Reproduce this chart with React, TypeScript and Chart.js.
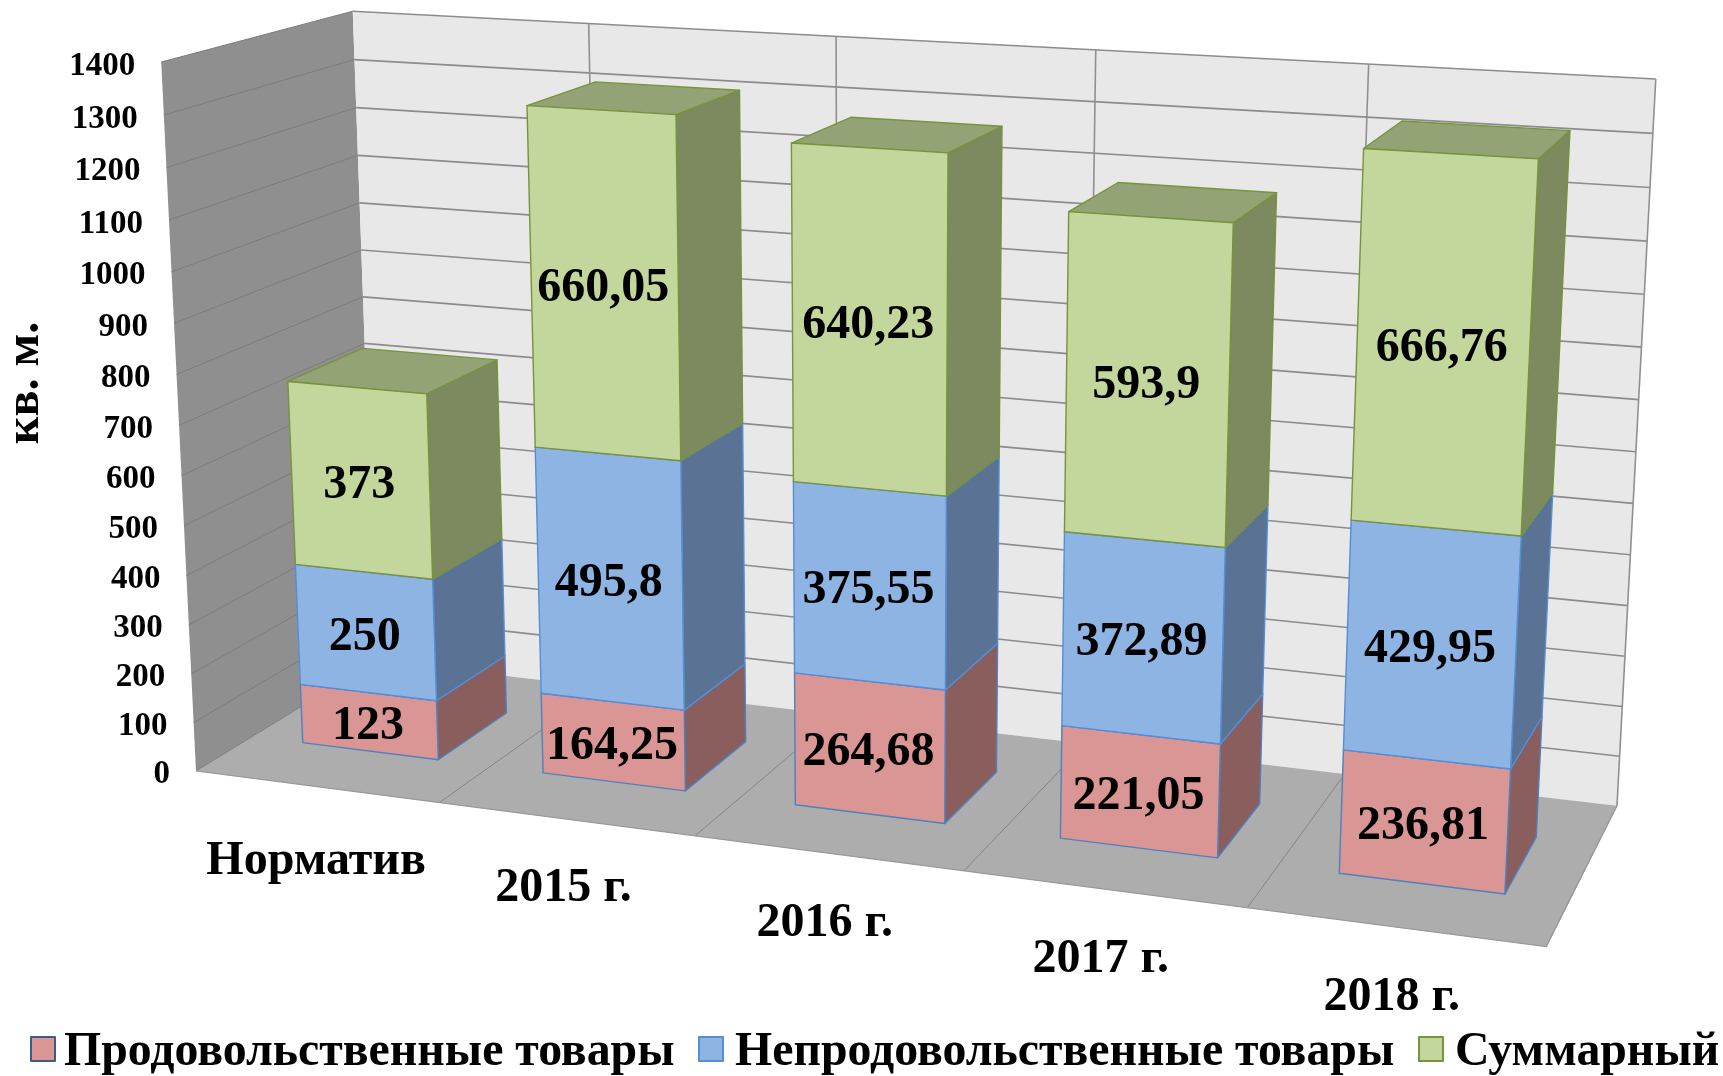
import React, { useEffect, useRef } from "react";
import { Chart, registerables } from "chart.js";

Chart.register(...registerables);

const categories = ["Норматив", "2015 г.", "2016 г.", "2017 г.", "2018 г."];
const foodValues = [123, 164.25, 264.68, 221.05, 236.81];
const nonFoodValues = [250, 495.8, 375.55, 372.89, 429.95];
const totalValues = [373, 660.05, 640.23, 593.9, 666.76];
const seriesNames = ["Продовольственные товары", "Непродовольственные товары", "Суммарный"];
const frontColors = ["#D99694", "#8EB4E3", "#C3D69B"];
const sideColors = ["#8B5E5E", "#5A7293", "#7D895F"];
const topColors = ["#A07070", "#6C88AE", "#94A376"];
const edgeColors = ["#4F81BD", "#558ED5", "#77933C"];
const yTitle = "кв. м.";

const FONT = '"Liberation Serif", "Times New Roman", serif';
const WALL_LEFT = "#8F8F8F";
const WALL_BACK = "#E8E8E8";
const FLOOR = "#ADADAD";
const DEPTH_FRONT = 0.295;
const DEPTH_BACK = 0.705;
const CATEGORY_NUDGE_X = [4, 2, 1, 1, 1];
const CATEGORY_NUDGE_Y = [5, 0, 0, 0, 1];

// Camera calibration: cube corners (u along categories, v up the value axis, w into the page), picture position, weight.
const calibration: number[][] = [
  [0, 1, 0, 159, 63, 4], [0, 0, 0, 197, 769, 4], [0, 1, 1, 355, 11, 4], [0, 0, 1, 372, 664, 2],
  [1, 1, 1, 1656, 79, 4], [1, 0, 1, 1617, 805, 4], [1, 0, 0, 1546, 948, 4],
  [0.2, 0, 0, 441, 802, 1], [0.4, 0, 0, 700, 836, 1], [0.6, 0, 0, 964, 871, 1], [0.8, 0, 0, 1247, 908, 1],
  [0.2, 1, 1, 591, 23, 1], [0.4, 1, 1, 837, 36, 1], [0.6, 1, 1, 1094, 49, 1], [0.8, 1, 1, 1366, 63, 1],
  [0, 0.5, 1, 364, 343, 1], [0, 0.5, 0, 178, 425, 1],
];

function solveCamera(): number[] {
  const n = 11;
  const M = Array.from({ length: n }, () => new Array(n + 1).fill(0));
  const add = (r: number[], b: number, wt: number) => {
    for (let i = 0; i < n; i++) {
      for (let j = 0; j < n; j++) M[i][j] += wt * r[i] * r[j];
      M[i][n] += wt * r[i] * b;
    }
  };
  for (const [u, v, w, px, py, wt] of calibration) {
    const x = px / 1000, y = py / 1000;
    add([u, v, w, 1, 0, 0, 0, 0, -x * u, -x * v, -x * w], x, wt);
    add([0, 0, 0, 0, u, v, w, 1, -y * u, -y * v, -y * w], y, wt);
  }
  for (let c = 0; c < n; c++) {
    let p = c;
    for (let r = c + 1; r < n; r++) if (Math.abs(M[r][c]) > Math.abs(M[p][c])) p = r;
    [M[c], M[p]] = [M[p], M[c]];
    for (let r = 0; r < n; r++) {
      if (r === c) continue;
      const f = M[r][c] / M[c][c];
      for (let k = c; k <= n; k++) M[r][k] -= f * M[c][k];
    }
  }
  return M.map((row, i) => row[n] / row[i]);
}
const cam = solveCamera();
function project(u: number, v: number, w: number): [number, number] {
  const d = cam[8] * u + cam[9] * v + cam[10] * w + 1;
  return [
    (1000 * (cam[0] * u + cam[1] * v + cam[2] * w + cam[3])) / d,
    (1000 * (cam[4] * u + cam[5] * v + cam[6] * w + cam[7])) / d,
  ];
}

function poly(ctx: CanvasRenderingContext2D, pts: [number, number][], fill: string | null, stroke?: string, lw = 1) {
  ctx.beginPath();
  pts.forEach((p, i) => (i ? ctx.lineTo(p[0], p[1]) : ctx.moveTo(p[0], p[1])));
  if (fill) {
    ctx.closePath();
    ctx.fillStyle = fill;
    ctx.fill();
  }
  if (stroke) {
    ctx.strokeStyle = stroke;
    ctx.lineWidth = lw;
    ctx.stroke();
  }
}

const plugin3d = {
  id: "perspective3d",
  beforeDatasetDraw() {
    return false;
  },
  beforeDatasetsDraw(chart: any) {
    const ctx: CanvasRenderingContext2D = chart.ctx;
    const yScale = chart.scales.y;
    const V = (val: number) => (yScale.bottom - yScale.getPixelForValue(val)) / (yScale.bottom - yScale.top);
    ctx.save();
    poly(ctx, [project(0, 0, 0), project(0, 1, 0), project(0, 1, 1), project(0, 0, 1)], WALL_LEFT);
    poly(ctx, [project(0, 0, 1), project(0, 1, 1), project(1, 1, 1), project(1, 0, 1)], WALL_BACK);
    poly(ctx, [project(0, 0, 0), project(0, 0, 1), project(1, 0, 1), project(1, 0, 0)], FLOOR);
    for (const t of yScale.ticks) {
      const v = V(t.value);
      if (t.value > 0) poly(ctx, [project(0, v, 1), project(1, v, 1)], null, "#8C8C8C", 1.6);
      poly(ctx, [project(0, v, 0), project(0, v, 1)], null, "#7C7C7C", 1);
    }
    const n = chart.data.labels.length;
    for (let i = 1; i <= n; i++) {
      const u = i / n;
      poly(ctx, [project(u, 0, 1), project(u, 1, 1)], null, "#909090", 1.6);
      poly(ctx, [project(u, 0, 0), project(u, 0, 1)], null, "#858585", 1);
    }
    poly(ctx, [project(0, 0, 0), project(1, 0, 0), project(1, 0, 1)], null, "#9A9A9A", 1.2);

    // Value axis labels and title
    ctx.fillStyle = "#000";
    ctx.textAlign = "right";
    ctx.textBaseline = "middle";
    ctx.font = `bold 33px ${FONT}`;
    for (const t of yScale.ticks) {
      const p = project(0, V(t.value), 0);
      ctx.fillText(String(t.value), p[0] - 26, p[1] + 4);
    }
    ctx.save();
    ctx.translate(26, 383);
    ctx.rotate(-Math.PI / 2);
    ctx.textAlign = "center";
    ctx.font = `bold 48px ${FONT}`;
    ctx.fillText(yTitle, 0, 0);
    ctx.restore();

    // Category labels
    ctx.textAlign = "center";
    ctx.font = `bold 48px ${FONT}`;
    chart.data.labels.forEach((label: string, i: number) => {
      const p = project((i + 0.5) / n, 0, 0);
      ctx.fillText(label, p[0] - 4 + CATEGORY_NUDGE_X[i], p[1] + 70 + CATEGORY_NUDGE_Y[i]);
    });
    ctx.restore();
  },
  afterDatasetsDraw(chart: any) {
    const ctx: CanvasRenderingContext2D = chart.ctx;
    const xs = chart.scales.x, ys = chart.scales.y;
    const U = (px: number) => (px - xs.left) / (xs.right - xs.left);
    const V = (py: number) => (ys.bottom - py) / (ys.bottom - ys.top);
    const a = DEPTH_FRONT, b = DEPTH_BACK;
    ctx.save();
    ctx.lineJoin = "round";
    const labels: [string, number, number][] = [];
    chart.data.labels.forEach((_: string, i: number) => {
      chart.data.datasets.forEach((ds: any, d: number) => {
        const el = chart.getDatasetMeta(d).data[i];
        const u0 = U(el.x - el.width / 2), u1 = U(el.x + el.width / 2);
        const v0 = V(el.base), v1 = V(el.y);
        const edge = ds.borderColor;
        poly(ctx, [project(u1, v0, a), project(u1, v0, b), project(u1, v1, b), project(u1, v1, a)], sideColors[d], edge, 1.4);
        poly(ctx, [project(u0, v1, a), project(u1, v1, a), project(u1, v1, b), project(u0, v1, b)], topColors[d], edge, 1.4);
        poly(ctx, [project(u0, v0, a), project(u1, v0, a), project(u1, v1, a), project(u0, v1, a)], ds.backgroundColor, edge, 1.4);
        const c = project((u0 + u1) / 2, (v0 + v1) / 2, a);
        labels.push([String(ds.data[i]).replace(".", ","), c[0], c[1]]);
      });
    });
    ctx.fillStyle = "#000";
    ctx.textAlign = "center";
    ctx.textBaseline = "middle";
    ctx.font = `bold 48px ${FONT}`;
    for (const [t, x, y] of labels) ctx.fillText(t, x - 1, y + 5);

    // Legend
    const boxX = [31, 699, 1419];
    const textX = [64, 735, 1455];
    chart.data.datasets.forEach((ds: any, d: number) => {
      ctx.fillStyle = ds.backgroundColor;
      ctx.fillRect(boxX[d], 1037, 24, 24);
      ctx.strokeStyle = d === 0 ? "#385D8A" : ds.borderColor;
      ctx.lineWidth = 2;
      ctx.strokeRect(boxX[d], 1037, 24, 24);
      ctx.fillStyle = "#000";
      ctx.textAlign = "left";
      ctx.font = `bold 47.8px ${FONT}`;
      ctx.fillText(ds.label, textX[d], 1053);
    });
    ctx.restore();
  },
};

export default function App() {
  const ref = useRef<HTMLCanvasElement>(null);
  useEffect(() => {
    const chart = new Chart(ref.current!, {
      type: "bar",
      data: {
        labels: categories,
        datasets: [foodValues, nonFoodValues, totalValues].map((data, i) => ({
          label: seriesNames[i],
          data,
          backgroundColor: frontColors[i],
          borderColor: edgeColors[i],
        })),
      },
      options: {
        responsive: false,
        animation: false,
        layout: { padding: 0 },
        datasets: { bar: { barPercentage: 0.57, categoryPercentage: 1 } },
        plugins: { legend: { display: false }, tooltip: { enabled: false } },
        scales: {
          x: { stacked: true, display: false },
          y: { stacked: true, display: false, min: 0, max: 1400, ticks: { stepSize: 100, autoSkip: false } },
        },
      },
      plugins: [plugin3d],
    } as any);
    return () => chart.destroy();
  }, []);
  return (
    <canvas
      ref={ref}
      width={1723}
      height={1076}
      style={{ position: "absolute", left: 0, top: 0, display: "block", background: "#fff" }}
    />
  );
}
